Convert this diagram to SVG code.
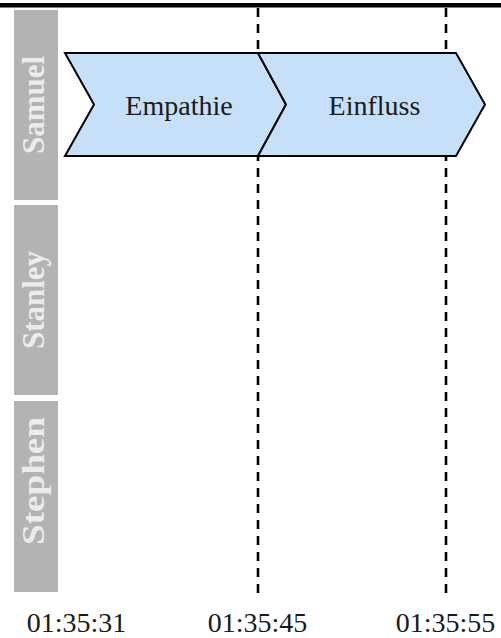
<svg xmlns="http://www.w3.org/2000/svg" width="501" height="638" viewBox="0 0 501 638">
  <style>
    .lane { fill: #b3b3b3; }
    .serif { font-family: 'Liberation Serif', 'DejaVu Serif', serif; }
    .lane-label { font-weight: bold; font-size: 31px; fill: #ececec; text-anchor: middle; }
    .step { fill: #c6e0fa; stroke: #000; stroke-width: 2; stroke-linejoin: miter; }
    .step-label { font-size: 28px; fill: #1a1a1a; text-anchor: middle; }
    .marker { stroke: #000; stroke-width: 2.6; stroke-dasharray: 9 7; fill: none; }
    .tick { font-size: 28px; fill: #1a1a1a; text-anchor: middle; }
  </style>

  <rect x="0" y="0" width="501" height="638" fill="#fff"/>
  <!-- top rule -->
  <rect x="0" y="3" width="501" height="4.5" fill="#000"/>

  <!-- swimlane headers -->
  <g id="lane-samuel">
    <rect class="lane" x="14" y="10" width="44" height="190"/>
    <text class="serif lane-label" transform="translate(43.5,105) rotate(-90)">Samuel</text>
  </g>
  <g id="lane-stanley">
    <rect class="lane" x="14" y="205" width="44" height="190"/>
    <text class="serif lane-label" transform="translate(43.5,300) rotate(-90)">Stanley</text>
  </g>
  <g id="lane-stephen">
    <rect class="lane" x="14" y="401" width="44" height="191"/>
    <text class="serif lane-label" transform="translate(43.5,481) rotate(-90)" textLength="128" lengthAdjust="spacingAndGlyphs">Stephen</text>
  </g>

  <!-- time markers -->
  <g id="connectors">
    <line class="marker" x1="258" y1="8" x2="258" y2="598"/>
    <line class="marker" x1="446" y1="8" x2="446" y2="598"/>
  </g>

  <!-- process steps -->
  <g id="step-empathie">
    <polygon class="step" points="65,53 258,53 286,104.5 258,156 65,156 94,104.5"/>
    <text class="serif step-label" x="179" y="115">Empathie</text>
  </g>
  <g id="step-einfluss">
    <polygon class="step" points="258,53 456,53 485,104.5 456,156 258,156 286,104.5"/>
    <text class="serif step-label" x="374.5" y="115">Einfluss</text>
  </g>

  <!-- time axis -->
  <g id="axis">
    <text class="serif tick" x="76.5" y="632">01:35:31</text>
    <text class="serif tick" x="257.5" y="632">01:35:45</text>
    <text class="serif tick" x="445.5" y="632">01:35:55</text>
  </g>
</svg>
